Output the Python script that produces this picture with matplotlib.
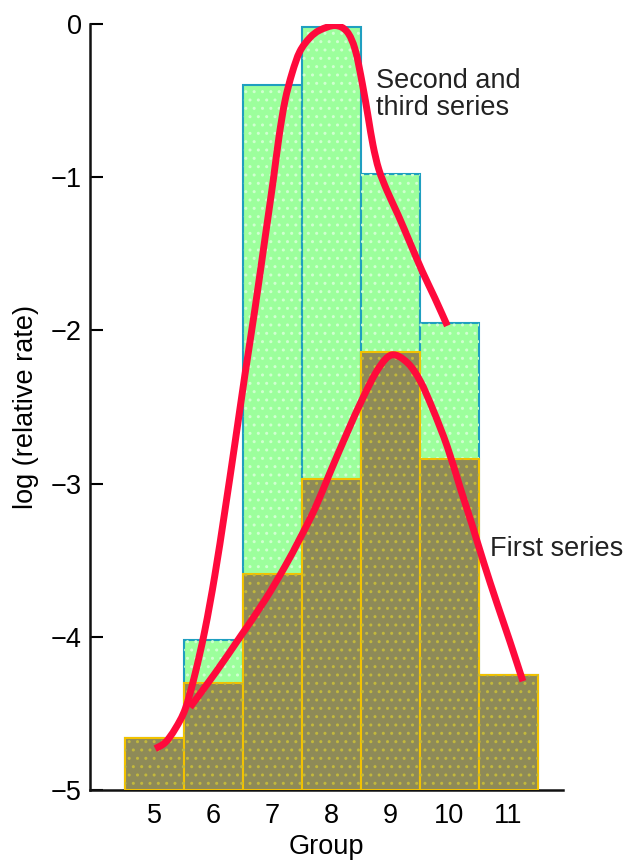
import numpy as np
import matplotlib
matplotlib.use("Agg")
import matplotlib.pyplot as plt
from matplotlib.path import Path
from matplotlib.patches import PathPatch

plt.rcParams['font.family'] = ['Liberation Sans', 'DejaVu Sans']
plt.rcParams['hatch.linewidth'] = 1.0

# groups and bar heights (log relative rate)
groups = [5, 6, 7, 8, 9, 10, 11]
first_series = [-4.66, -4.30, -3.59, -2.97, -2.14, -2.84, -4.25]
second_third = [-4.66, -4.02, -0.40, -0.02, -0.98, -1.95, -4.25]

# trend lines drawn over the bars
upper_x = [5.02, 5.19, 5.36, 5.53, 5.69, 5.86, 6.03, 6.20, 6.37, 6.54, 6.71, 6.88,
           7.02, 7.12, 7.22, 7.34, 7.47, 7.64, 7.81, 8.07, 8.27, 8.41, 8.53, 8.63,
           8.71, 8.81, 8.95, 9.14, 9.34, 9.54, 9.76, 9.97]
upper_y = [-4.73, -4.69, -4.60, -4.47, -4.25, -3.96, -3.60, -3.18, -2.74, -2.29, -1.86, -1.40,
           -1.02, -0.73, -0.50, -0.32, -0.18, -0.09, -0.04, -0.01, -0.05, -0.17, -0.39, -0.61,
           -0.79, -0.95, -1.09, -1.25, -1.43, -1.61, -1.79, -1.97]
lower_x = [5.61, 6.03, 6.46, 6.88, 7.22, 7.47, 7.73, 7.98, 8.27, 8.54, 8.80, 9.03,
           9.29, 9.51, 9.73, 9.97, 10.19, 10.39, 10.59, 10.81, 11.03, 11.25]
lower_y = [-4.46, -4.24, -4.00, -3.76, -3.54, -3.36, -3.16, -2.93, -2.67, -2.44, -2.25, -2.16,
           -2.21, -2.33, -2.52, -2.76, -3.03, -3.27, -3.52, -3.78, -4.03, -4.29]


def smooth_path(ax, xs, ys):
    # Catmull-Rom through the points, written as cubic Bezier segments in pixel space
    pts = ax.transData.transform(np.column_stack([xs, ys]))
    p = np.vstack([pts[0], pts, pts[-1]])
    verts = [pts[0]]
    codes = [Path.MOVETO]
    for i in range(1, len(p) - 2):
        c1 = p[i] + (p[i + 1] - p[i - 1]) / 6
        c2 = p[i + 1] - (p[i + 2] - p[i]) / 6
        verts += [c1, c2, p[i + 1]]
        codes += [Path.CURVE4] * 3
    return Path(verts, codes)


fig = plt.figure(figsize=(6.33, 8.63), dpi=100)
ax = fig.add_axes([90 / 633, 73 / 863, 473 / 633, 766 / 863])

base = -5
h2 = np.array(second_third) - base
h1 = np.array(first_series) - base

# green bars with pale dot screen
ax.bar(groups, h2, width=1.0, bottom=base, color='#9CFF9C', edgecolor='#1F9FC0',
       linewidth=1.5, zorder=2)
ax.bar(groups, h2, width=1.0, bottom=base, color='none', edgecolor='#D0FFD0',
       linewidth=0, hatch='..', zorder=2.1)
# olive bars with yellow dot screen
ax.bar(groups, h1, width=1.0, bottom=base, color='#8E8A58', edgecolor='#F2C200',
       linewidth=1.5, zorder=3)
ax.bar(groups, h1, width=1.0, bottom=base, color='none', edgecolor='#C2B83C',
       linewidth=0, hatch='..', zorder=3.1)

ax.set_xlim(3.915, 11.93)
ax.set_ylim(-5, 0)

for xs, ys in [(upper_x, upper_y), (lower_x, lower_y)]:
    patch = PathPatch(smooth_path(ax, xs, ys), facecolor='none', edgecolor='#FF0A3C',
                      lw=5, capstyle='butt', joinstyle='round', transform=None, zorder=5)
    ax.add_artist(patch)

ax.text(8.76, -0.29, 'Second and\nthird series', fontsize=19.5, va='top', ha='left',
        linespacing=1.05, color='#222222')
ax.text(10.69, -3.47, 'First series', fontsize=19.5, va='baseline', ha='left',
        color='#222222', clip_on=False)

ax.set_xticks(groups)
ax.set_yticks([0, -1, -2, -3, -4, -5])
ax.tick_params(axis='x', length=0, pad=9, labelsize=19.5)
ax.tick_params(axis='y', direction='in', length=9, width=1.5, pad=6, labelsize=19.5)
ax.set_xlabel('Group', fontsize=19.5, labelpad=4)
ax.set_ylabel('log (relative rate)', fontsize=19.5, labelpad=8)

for side in ['top', 'right']:
    ax.spines[side].set_visible(False)
for side in ['left', 'bottom']:
    ax.spines[side].set_linewidth(1.8)
    ax.spines[side].set_color('#111111')

fig.savefig('out.png', dpi=100)
